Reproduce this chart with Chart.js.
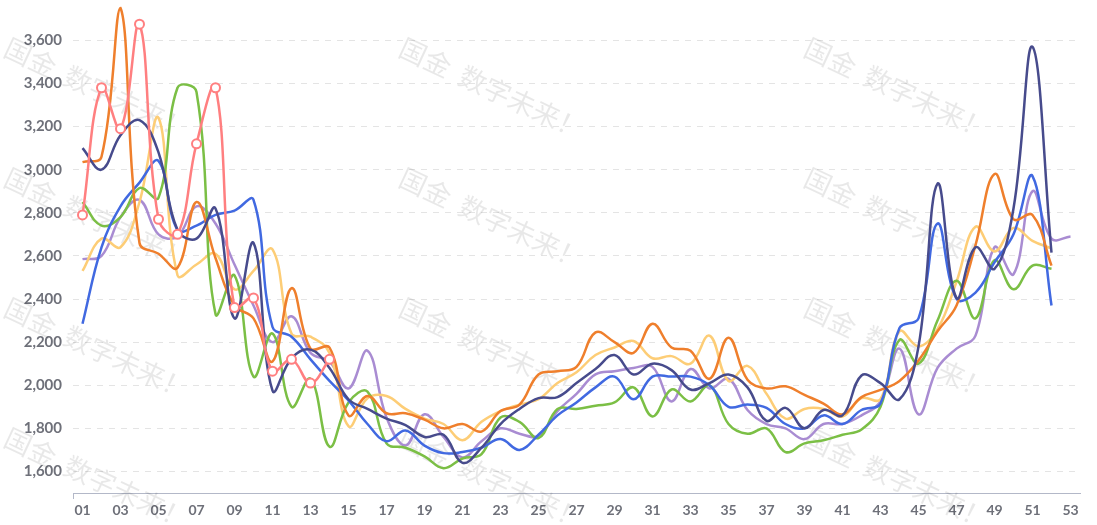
<!DOCTYPE html>
<html>
<head>
<meta charset="utf-8">
<script src="https://cdn.jsdelivr.net/npm/chart.js@4"></script>
<style>
  html, body { margin: 0; padding: 0; background: #ffffff; }
  #c { display: block; }
</style>
</head>
<body>
<canvas id="c" width="1097" height="525"></canvas>
<script>
const weeks = ['01','02','03','04','05','06','07','08','09','10','11','12','13','14','15','16','17','18','19','20','21','22','23','24','25','26','27','28','29','30','31','32','33','34','35','36','37','38','39','40','41','42','43','44','45','46','47','48','49','50','51','52','53'];

const yTicks = [1600, 1800, 2000, 2200, 2400, 2600, 2800, 3000, 3200, 3400, 3600];

const seriesPink = [2790, 3380, 3190, 3675, 2770, 2700, 3120, 3380, 2360, 2405, 2065, 2120, 2010, 2120];

const seriesNavy = [3100, 3000, 3160, 3230, 3080, 2720, 2680, 2820, 2310, 2660, 1975, 2125, 2165, 2080, 1935, 1890, 1845, 1815, 1760, 1770, 1640, 1710, 1820, 1890, 1940, 1945, 2010, 2075, 2140, 2050, 2100, 2070, 1980, 2010, 2050, 1990, 1835, 1895, 1800, 1885, 1860, 2045, 2010, 1935, 2180, 2935, 2405, 2640, 2540, 2820, 3570, 2615];

const seriesOrange = [3035, 3060, 3750, 2660, 2610, 2545, 2850, 2590, 2370, 2310, 2110, 2450, 2170, 2175, 1860, 1950, 1870, 1870, 1840, 1800, 1820, 1785, 1880, 1910, 2050, 2065, 2085, 2245, 2200, 2150, 2285, 2175, 2160, 2030, 2220, 2025, 1985, 1995, 1955, 1915, 1865, 1945, 1978, 2020, 2115, 2250, 2370, 2650, 2980, 2770, 2790, 2555];

const seriesGreen = [2850, 2740, 2780, 2915, 2870, 3380, 3360, 2330, 2510, 2040, 2240, 1900, 2030, 1715, 1920, 1970, 1730, 1710, 1670, 1615, 1660, 1680, 1850, 1830, 1755, 1890, 1890, 1905, 1920, 1990, 1855, 1980, 1925, 2000, 1820, 1775, 1800, 1690, 1730, 1745, 1770, 1795, 1900, 2210, 2100, 2300, 2485, 2310, 2580, 2445, 2555, 2540];

const seriesBlue = [2285, 2640, 2830, 2940, 3040, 2720, 2740, 2790, 2810, 2860, 2270, 2225, 2120, 2020, 1930, 1820, 1740, 1790, 1720, 1685, 1690, 1710, 1750, 1700, 1770, 1860, 1920, 1990, 2040, 1935, 2040, 2040, 2040, 2000, 1900, 1910, 1895, 1820, 1800, 1860, 1820, 1885, 1915, 2265, 2310, 2750, 2400, 2430, 2570, 2700, 2970, 2370];

const seriesYellow = [2530, 2680, 2640, 2850, 3240, 2510, 2560, 2610, 2445, 2530, 2630, 2240, 2225, 2150, 1810, 1940, 1950, 1890, 1845, 1820, 1745, 1830, 1880, 1910, 1935, 2010, 2060, 2140, 2175, 2205, 2125, 2135, 2100, 2230, 2020, 2090, 1960, 1845, 1890, 1890, 1855, 1940, 1935, 2250, 2180, 2260, 2480, 2735, 2620, 2730, 2670, 2635];

const seriesPurple = [2585, 2600, 2780, 2860, 2700, 2690, 2830, 2750, 2560, 2370, 2200, 2320, 2150, 2110, 1985, 2160, 1850, 1720, 1865, 1760, 1665, 1740, 1800, 1775, 1765, 1880, 1960, 2050, 2065, 2080, 2085, 1925, 2075, 1985, 2030, 1885, 1820, 1800, 1750, 1820, 1820, 1860, 1925, 2170, 1865, 2080, 2170, 2230, 2640, 2515, 2900, 2680, 2690];

const watermarkText = '国金  数字未来！';

function line(data, color, extra) {
  return Object.assign({
    data: data,
    borderColor: color,
    backgroundColor: color,
    borderWidth: 2.5,
    pointRadius: 0,
    pointHoverRadius: 0,
    tension: 0.4,
    fill: false,
    clip: false
  }, extra || {});
}

const watermark = {
  id: 'watermark',
  beforeDatasetsDraw(chart) {
    const ctx = chart.ctx;
    ctx.save();
    ctx.fillStyle = 'rgba(0,0,0,0.09)';
    ctx.font = '27px "Noto Sans CJK SC"';
    ctx.textBaseline = 'middle';
    const cols = [0, 395, 800];
    const rows = [38, 168, 298, 428];
    for (const cx of cols) {
      for (const cy of rows) {
        ctx.save();
        ctx.translate(cx + 6, cy + 8);
        ctx.rotate(25 * Math.PI / 180);
        ctx.fillText(watermarkText, 0, 0);
        ctx.restore();
      }
    }
    ctx.restore();
  }
};

const axisColor = '#b3b8c8';
const labelColor = '#6e7079';

new Chart(document.getElementById('c'), {
  type: 'line',
  data: {
    labels: weeks,
    datasets: [
      line(seriesPink, '#ff7f80', {
        pointRadius: 4.5,
        pointBorderWidth: 2,
        pointBackgroundColor: '#ffffff',
        pointBorderColor: '#ff7f80'
      }),
      line(seriesNavy, '#474b8c'),
      line(seriesOrange, '#ef7f2c'),
      line(seriesBlue, '#4169e1'),
      line(seriesGreen, '#7bbf45'),
      line(seriesYellow, '#fdcd76'),
      line(seriesPurple, '#a98cd2')
    ]
  },
  options: {
    responsive: false,
    animation: false,
    devicePixelRatio: 1,
    layout: { padding: { top: 0, right: 17, left: 0, bottom: 0 } },
    plugins: {
      legend: { display: false },
      tooltip: { enabled: false }
    },
    scales: {
      x: {
        type: 'category',
        offset: true,
        grid: {
          display: true,
          drawOnChartArea: false,
          drawTicks: true,
          tickLength: 6,
          offset: true,
          color: (ctx) => (ctx.index === 0 || ctx.index === weeks.length) ? axisColor : 'rgba(0,0,0,0)'
        },
        border: { display: true, color: axisColor, width: 1 },
        ticks: {
          autoSkip: false,
          maxRotation: 0,
          minRotation: 0,
          padding: 3,
          color: labelColor,
          font: { family: 'Lato', weight: 'bold', size: 14 },
          callback: (v, i) => (i % 2 === 0 ? weeks[i] : '')
        },
        afterFit: (scale) => { scale.height = 32; scale.paddingLeft = 0; scale.paddingRight = 0; }
      },
      y: {
        min: 1500,
        max: 3750,
        afterBuildTicks: (scale) => { scale.ticks = yTicks.map(v => ({ value: v })); },
        grid: {
          color: '#e4e4e4',
          lineWidth: 1,
          drawTicks: false
        },
        border: { display: false, dash: [6, 6] },
        ticks: {
          padding: 11,
          color: labelColor,
          font: { family: 'Lato', weight: 'bold', size: 15 },
          callback: (v) => v.toLocaleString('en-US')
        },
        afterFit: (scale) => { scale.width = 73; scale.paddingTop = 8; scale.paddingBottom = 0; }
      }
    }
  },
  plugins: [watermark]
});
</script>
</body>
</html>
